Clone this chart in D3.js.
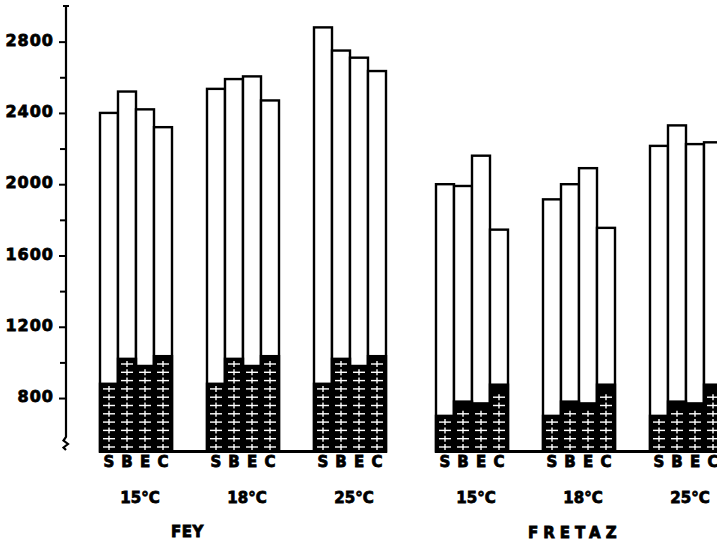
<!DOCTYPE html>
<html>
<head>
<meta charset="utf-8">
<script src="https://cdn.jsdelivr.net/npm/d3@7/dist/d3.min.js"></script>
<style>
  html, body { margin: 0; padding: 0; background: #fff; }
  svg { display: block; }
  text { font-family: "DejaVu Sans", sans-serif; font-weight: bold; fill: #000; stroke: #000; stroke-width: 0.8px; }
</style>
</head>
<body>
<svg id="chart" width="717" height="544"></svg>
<script>
// Sites, temperatures and treatments
const sites = ["FEY", "FRETAZ"];
const temps = ["15°C", "18°C", "25°C"];
const treatments = ["S", "B", "E", "C"];

// Total height of each bar (S, B, E, C) per temperature
const feyTotals = [
  [2400, 2520, 2420, 2320],
  [2535, 2590, 2605, 2470],
  [2880, 2750, 2710, 2635]
];
const fretazTotals = [
  [2000, 1990, 2160, 1745],
  [1915, 2000, 2090, 1755],
  [2215, 2330, 2225, 2235]
];

// Hatched lower part of each bar (same for every temperature of a site)
const feyBase = [880, 1020, 980, 1035];
const fretazBase = [700, 780, 770, 875];

// Y axis ticks
const majorTicks = [800, 1200, 1600, 2000, 2400, 2800];
const minorTicks = [1000, 1400, 1800, 2200, 2600];
const axisMin = 500, axisMax = 3000;

const totalsBySite = { FEY: feyTotals, FRETAZ: fretazTotals };
const baseBySite = { FEY: feyBase, FRETAZ: fretazBase };

const svg = d3.select("#chart");

const y = d3.scaleLinear().domain([axisMin, axisMax]).range([451.5, 6]);

// Site -> group -> bar positioning
const siteX = d3.scaleBand().domain(sites).range([100, 772]);
const groupX = d3.scaleBand().domain(temps).range([0, 286]).paddingInner(35 / 107).paddingOuter(0);
const barX = d3.scaleBand().domain(treatments).range([0, groupX.bandwidth()]).padding(0);

// Flatten data into bar records
const bars = [];
sites.forEach(site => {
  temps.forEach((t, ti) => {
    treatments.forEach((tr, k) => {
      bars.push({
        site, temp: t, treatment: tr,
        total: totalsBySite[site][ti][k],
        base: baseBySite[site][k],
        x: siteX(site) + groupX(t) + barX(tr),
        w: barX.bandwidth()
      });
    });
  });
});

const g = svg.append("g");
const lw = 2.4;

// White upper bars
g.selectAll("rect.total").data(bars).join("rect")
  .attr("class", "total")
  .attr("x", d => d.x).attr("width", d => d.w)
  .attr("y", d => y(d.total)).attr("height", d => y(axisMin) - y(d.total))
  .attr("fill", "#fff").attr("stroke", "#000").attr("stroke-width", lw);

// Black hatched lower bars
g.selectAll("rect.base").data(bars).join("rect")
  .attr("class", "base")
  .attr("x", d => d.x).attr("width", d => d.w)
  .attr("y", d => y(d.base)).attr("height", d => y(axisMin) - y(d.base))
  .attr("fill", "#000").attr("stroke", "#000").attr("stroke-width", lw);

// White crosses inside the hatched parts
const crossStep = 8.3;
const crosses = [];
bars.forEach(d => {
  const top = y(d.base) + 5;
  for (let cy = y(axisMin) - 4.5; cy > top; cy -= crossStep) {
    crosses.push({ cx: d.x + d.w / 2, cy, w: d.w });
  }
});
const cg = g.append("g").attr("stroke", "#fff").attr("stroke-width", 1.4);
cg.selectAll("line.h").data(crosses).join("line")
  .attr("class", "h")
  .attr("x1", d => d.cx - d.w / 2 + 3).attr("x2", d => d.cx + d.w / 2 - 3)
  .attr("y1", d => d.cy).attr("y2", d => d.cy);
cg.selectAll("line.v").data(crosses).join("line")
  .attr("class", "v")
  .attr("x1", d => d.cx).attr("x2", d => d.cx)
  .attr("y1", d => d.cy - 3).attr("y2", d => d.cy + 3);

// Baseline under each site
sites.forEach(site => {
  const x0 = siteX(site) + groupX(temps[0]);
  const x1 = siteX(site) + groupX(temps[temps.length - 1]) + groupX.bandwidth();
  g.append("line")
    .attr("x1", x0 - 1).attr("x2", x1 + 1)
    .attr("y1", y(axisMin)).attr("y2", y(axisMin))
    .attr("stroke", "#000").attr("stroke-width", 3);
});

// Treatment letters under each bar
g.selectAll("text.tr").data(bars).join("text")
  .attr("class", "tr")
  .attr("x", d => d.x + d.w / 2).attr("y", 467)
  .attr("text-anchor", "middle").attr("font-size", 15)
  .text(d => d.treatment);

// Temperature labels
sites.forEach(site => {
  temps.forEach(t => {
    g.append("text")
      .attr("x", siteX(site) + groupX(t) + groupX.bandwidth() / 2 + 4)
      .attr("y", 503)
      .attr("text-anchor", "middle").attr("font-size", 15)
      .text(t);
  });
});

// Site names
g.append("text").attr("x", 171).attr("y", 537)
  .attr("font-size", 15).attr("letter-spacing", 0.5).text(sites[0]);
g.append("text").attr("x", 528).attr("y", 538)
  .attr("font-size", 15).attr("letter-spacing", 5).text(sites[1]);

// Y axis
const axisX = 66;
const ax = svg.append("g").attr("transform", `translate(${axisX},0)`);
ax.call(d3.axisLeft(y).tickValues(majorTicks).tickFormat(d3.format("d"))
    .tickSize(7).tickPadding(5).tickSizeOuter(0))
  .call(s => s.select(".domain").remove());
ax.selectAll(".tick line").attr("stroke-width", 2);
ax.selectAll(".tick text")
  .attr("font-family", "DejaVu Sans, sans-serif").attr("font-weight", "bold")
  .attr("font-size", 16).attr("letter-spacing", 1).attr("dy", "0.22em")
  .attr("fill", "#000");
const axMinor = svg.append("g").attr("transform", `translate(${axisX},0)`);
axMinor.call(d3.axisLeft(y).tickValues(minorTicks).tickSize(6).tickFormat("").tickSizeOuter(0))
  .call(s => s.select(".domain").remove());
axMinor.selectAll(".tick line").attr("stroke-width", 2);

// Axis line with top cap and bottom break mark
const yTop = y(axisMax);
svg.append("path")
  .attr("d", `M${axisX},${yTop} L${axisX},437 L${axisX - 2.5},440.5 L${axisX + 2},444 L${axisX - 2.5},447.5 L${axisX},450`)
  .attr("fill", "none").attr("stroke", "#000").attr("stroke-width", 2.2);
svg.append("line")
  .attr("x1", axisX - 3).attr("x2", axisX + 3)
  .attr("y1", yTop).attr("y2", yTop)
  .attr("stroke", "#000").attr("stroke-width", 2);
</script>
</body>
</html>
